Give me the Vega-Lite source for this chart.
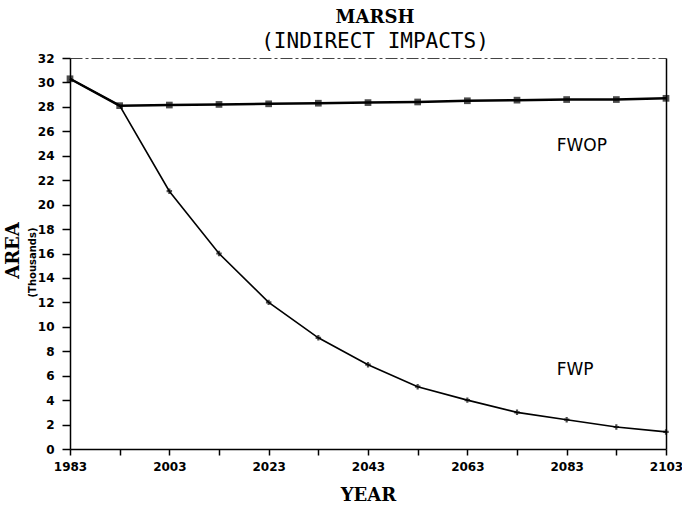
{
  "$schema": "https://vega.github.io/schema/vega-lite/v6.json",
  "width": 596,
  "height": 391,
  "autosize": "none",
  "padding": {"left": 70, "top": 58, "right": 16, "bottom": 64},
  "background": "white",
  "config": {
    "view": {"stroke": null},
    "axis": {"domainColor": "black", "tickColor": "black", "labelColor": "black", "titleColor": "black", "grid": false}
  },
  "title": {
    "text": "MARSH",
    "subtitle": "(INDIRECT IMPACTS)",
    "font": "DejaVu Serif",
    "fontSize": 18,
    "fontWeight": "bold",
    "subtitleFont": "DejaVu Sans Mono",
    "subtitleFontSize": 21,
    "subtitleFontWeight": "normal",
    "subtitleColor": "black",
    "color": "black",
    "anchor": "middle",
    "dx": 7,
    "offset": 0,
    "subtitlePadding": 4
  },
  "datasets": {
    "series": [
      {"year": 1983, "area": 30.3, "series": "FWOP"},
      {"year": 1993, "area": 28.1, "series": "FWOP"},
      {"year": 2003, "area": 28.15, "series": "FWOP"},
      {"year": 2013, "area": 28.2, "series": "FWOP"},
      {"year": 2023, "area": 28.25, "series": "FWOP"},
      {"year": 2033, "area": 28.3, "series": "FWOP"},
      {"year": 2043, "area": 28.35, "series": "FWOP"},
      {"year": 2053, "area": 28.4, "series": "FWOP"},
      {"year": 2063, "area": 28.5, "series": "FWOP"},
      {"year": 2073, "area": 28.55, "series": "FWOP"},
      {"year": 2083, "area": 28.6, "series": "FWOP"},
      {"year": 2093, "area": 28.6, "series": "FWOP"},
      {"year": 2103, "area": 28.7, "series": "FWOP"},
      {"year": 1983, "area": 30.3, "series": "FWP"},
      {"year": 1993, "area": 28.1, "series": "FWP"},
      {"year": 2003, "area": 21.1, "series": "FWP"},
      {"year": 2013, "area": 16.0, "series": "FWP"},
      {"year": 2023, "area": 12.0, "series": "FWP"},
      {"year": 2033, "area": 9.1, "series": "FWP"},
      {"year": 2043, "area": 6.9, "series": "FWP"},
      {"year": 2053, "area": 5.1, "series": "FWP"},
      {"year": 2063, "area": 4.0, "series": "FWP"},
      {"year": 2073, "area": 3.0, "series": "FWP"},
      {"year": 2083, "area": 2.4, "series": "FWP"},
      {"year": 2093, "area": 1.8, "series": "FWP"},
      {"year": 2103, "area": 1.4, "series": "FWP"}
    ],
    "labels": [
      {"year": 2081, "area": 24.8, "label": "FWOP"},
      {"year": 2081, "area": 6.5, "label": "FWP"}
    ]
  },
  "resolve": {"axis": {"x": "independent", "y": "independent"}},
  "layer": [
    {
      "data": {"name": "series"},
      "transform": [{"filter": "datum.series === 'FWOP'"}],
      "mark": {"type": "line", "color": "black", "strokeWidth": 2.5},
      "encoding": {
        "x": {
          "field": "year", "type": "quantitative",
          "scale": {"domain": [1983, 2103], "nice": false, "zero": false},
          "axis": {
            "orient": "bottom",
            "values": [1983, 1993, 2003, 2013, 2023, 2033, 2043, 2053, 2063, 2073, 2083, 2093, 2103],
            "labelExpr": "(datum.value - 1983) % 20 === 0 ? format(datum.value, 'd') : ''",
            "title": "YEAR",
            "titleFont": "DejaVu Serif", "titleFontSize": 18, "titleFontWeight": "bold",
            "titlePadding": 14,
            "labelFont": "DejaVu Sans", "labelFontSize": 12, "labelFontWeight": "bold",
            "labelPadding": 6, "tickSize": 6, "labelFlush": false,
            "domainWidth": 1.5, "tickWidth": 1.5
          }
        },
        "y": {
          "field": "area", "type": "quantitative",
          "scale": {"domain": [0, 32], "nice": false},
          "axis": {
            "orient": "left",
            "values": [0, 2, 4, 6, 8, 10, 12, 14, 16, 18, 20, 22, 24, 26, 28, 30, 32],
            "title": "AREA",
            "titleFont": "DejaVu Serif", "titleFontSize": 18, "titleFontWeight": "bold",
            "titlePadding": 15, "titleY": 192,
            "labelFont": "DejaVu Sans", "labelFontSize": 12, "labelFontWeight": "bold",
            "labelPadding": 8, "tickSize": 8,
            "domainWidth": 1.5, "tickWidth": 1.5
          }
        }
      }
    },
    {
      "data": {"name": "series"},
      "transform": [{"filter": "datum.series === 'FWP'"}],
      "mark": {"type": "line", "color": "black", "strokeWidth": 1.6},
      "encoding": {
        "x": {
          "field": "year", "type": "quantitative",
          "axis": {"orient": "top", "labels": false, "ticks": false, "title": null, "domainDash": [12, 3, 3, 3], "domainColor": "#444", "domainWidth": 1}
        },
        "y": {
          "field": "area", "type": "quantitative",
          "axis": {"orient": "right", "labels": false, "ticks": false, "title": null, "domainWidth": 1.5}
        }
      }
    },
    {
      "data": {"name": "series"},
      "transform": [{"filter": "datum.series === 'FWOP'"}],
      "mark": {"type": "point", "shape": "square", "filled": true, "color": "black", "size": 45},
      "encoding": {
        "x": {"field": "year", "type": "quantitative", "axis": null},
        "y": {
          "field": "area", "type": "quantitative",
          "axis": {"orient": "left", "labels": false, "ticks": false, "domain": false, "title": "(Thousands)",
            "titleFont": "DejaVu Sans", "titleFontSize": 10, "titleFontWeight": "bold", "titlePadding": 33, "titleY": 204}
        }
      }
    },
    {
      "data": {"name": "series"},
      "transform": [{"filter": "datum.series === 'FWP' && datum.year > 1993"}],
      "mark": {"type": "point", "shape": "cross", "filled": true, "color": "black", "size": 30},
      "encoding": {
        "x": {"field": "year", "type": "quantitative", "axis": null},
        "y": {"field": "area", "type": "quantitative", "axis": null}
      }
    },
    {
      "data": {"name": "labels"},
      "mark": {"type": "text", "align": "left", "baseline": "middle", "font": "DejaVu Sans", "fontSize": 17, "color": "black"},
      "encoding": {
        "x": {"field": "year", "type": "quantitative", "axis": null},
        "y": {"field": "area", "type": "quantitative", "axis": null},
        "text": {"field": "label"}
      }
    }
  ]
}
